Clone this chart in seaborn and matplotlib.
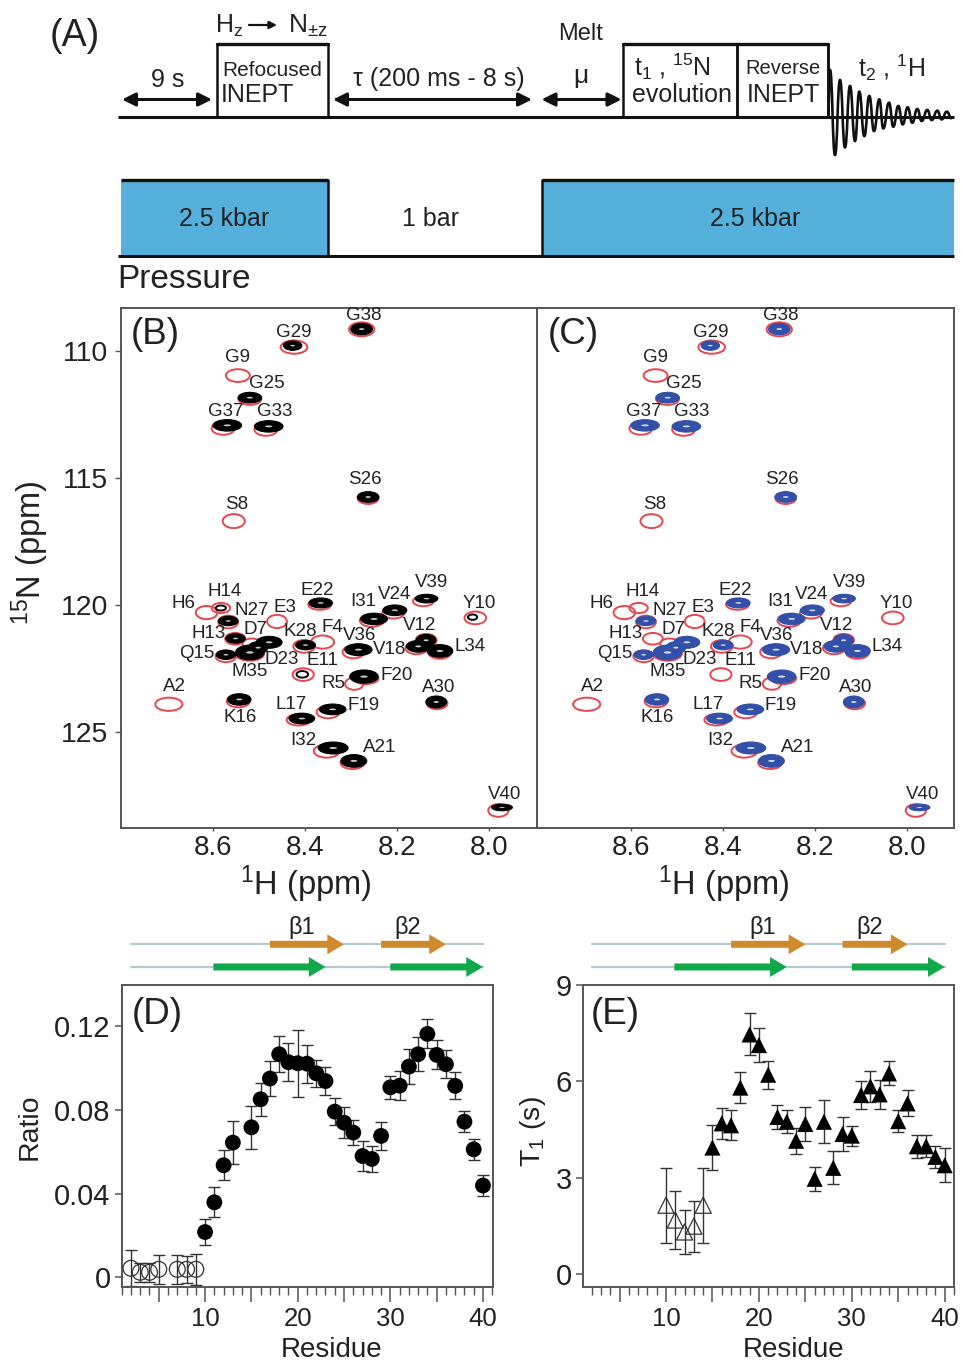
import numpy as np
import pandas as pd
import matplotlib
matplotlib.use("Agg")
import matplotlib.pyplot as plt
import seaborn as sns
from matplotlib.patches import Ellipse, Polygon, Rectangle, PathPatch
from matplotlib.path import Path
from matplotlib.ticker import FixedLocator, MultipleLocator, NullFormatter, FuncFormatter
from matplotlib.transforms import blended_transform_factory

# ---------- data: panel D ----------
ratio_open_res = [2, 3, 4, 5, 7, 8, 9]
ratio_open_val = [0.0043, 0.0024, 0.0024, 0.0038, 0.0038, 0.0038, 0.0038]
ratio_open_err = [0.0085, 0.0045, 0.0045, 0.0070, 0.0070, 0.0065, 0.0075]
ratio_res = [10, 11, 12, 13, 15, 16, 17, 18, 19, 20, 21, 22, 23, 24, 25, 26, 27, 28, 29, 30,
             31, 32, 33, 34, 35, 36, 37, 38, 39, 40]
ratio_val = [0.0216, 0.0358, 0.0535, 0.0643, 0.0716, 0.0850, 0.0949, 0.1065, 0.1027, 0.1022,
             0.1020, 0.0974, 0.0937, 0.0791, 0.0738, 0.0691, 0.0579, 0.0565, 0.0675, 0.0907,
             0.0915, 0.1006, 0.1065, 0.1162, 0.1062, 0.1017, 0.0914, 0.0743, 0.0611, 0.0438]
ratio_err = [0.0061, 0.0072, 0.0072, 0.0104, 0.0103, 0.0080, 0.0084, 0.0087, 0.0091, 0.0161,
             0.0090, 0.0065, 0.0068, 0.0064, 0.0073, 0.0060, 0.0072, 0.0062, 0.0068, 0.0054,
             0.0070, 0.0083, 0.0080, 0.0069, 0.0069, 0.0067, 0.0065, 0.0050, 0.0050, 0.0050]

# ---------- data: panel E ----------
t1_open_res = [10, 11, 12, 13, 14]
t1_open_val = [2.15, 1.69, 1.32, 1.50, 2.15]
t1_open_err = [1.16, 0.89, 0.69, 0.79, 1.16]
t1_res = list(range(15, 41))
t1_val = [3.94, 4.69, 4.63, 5.80, 7.45, 7.12, 6.20, 4.89, 4.74, 4.15, 4.67, 2.97, 4.74,
          3.31, 4.36, 4.31, 5.57, 5.84, 5.59, 6.24, 4.76, 5.31, 3.98, 3.98, 3.65, 3.39]
t1_err = [0.70, 0.48, 0.47, 0.49, 0.65, 0.54, 0.44, 0.36, 0.36, 0.41, 0.53, 0.38, 0.67,
          0.51, 0.52, 0.31, 0.44, 0.49, 0.46, 0.37, 0.34, 0.40, 0.35, 0.34, 0.35, 0.53]

# ---------- data: secondary structure (residue ranges) ----------
strand_line = [2, 40]
strands_orange = [(17, 25), (29, 36)]
strands_green = [(10.9, 23), (30, 40)]

# ---------- data: NMR peaks ----------
peak_names = ["G38", "G29", "G25", "G37", "G33", "S26", "H14", "N27", "H13", "D7", "Q15", "M35",
              "D23", "K28", "V36", "E11", "F20", "K16", "L17", "F19", "I32", "A21", "A30", "V39",
              "V24", "I31", "Y10", "V12", "V18", "L34", "V40", "E22"]
peak_h = [8.277, 8.427, 8.520, 8.569, 8.479, 8.263, 8.583, 8.567, 8.551, 8.478, 8.572, 8.520,
          8.502, 8.399, 8.284, 8.406, 8.272, 8.543, 8.407, 8.340, 8.339, 8.294, 8.115, 8.136,
          8.205, 8.250, 8.036, 8.137, 8.154, 8.107, 7.972, 8.366]
peak_n = [109.15, 109.80, 111.85, 112.94, 112.98, 115.76, 120.13, 120.64, 121.33, 121.48, 121.97,
          121.88, 121.69, 121.59, 121.77, 122.74, 122.83, 123.73, 124.48, 124.12, 125.64, 126.15,
          123.83, 119.76, 120.22, 120.56, 120.49, 121.40, 121.64, 121.82, 127.98, 119.93]
peak_wh = [.047, .040, .051, .062, .062, .047, .022, .043, .042, .056, .042, .062,
           .043, .043, .059, .025, .062, .051, .056, .058, .065, .056, .045, .049,
           .052, .058, .020, .043, .051, .056, .045, .051]
peak_wn = [.45, .37, .42, .45, .45, .42, .20, .37, .37, .47, .37, .58,
           .47, .37, .47, .26, .52, .45, .42, .42, .47, .50, .47, .34,
           .42, .45, .21, .46, .46, .50, .26, .39]
absent_in_c = ["H14", "E11", "H13", "Y10"]

ref_names = ["G38", "G29", "G9", "G25", "G37", "G33", "S26", "S8", "H6", "H14", "N27", "E3", "H13",
             "D7", "Q15", "M35", "K28", "F4", "V36", "E11", "R5", "F20", "A2", "K16", "L17", "F19",
             "I32", "A21", "A30", "V39", "V24", "I31", "Y10", "V12", "V18", "L34", "V40", "E22"]
ref_h = [8.277, 8.424, 8.546, 8.520, 8.578, 8.485, 8.263, 8.555, 8.614, 8.583, 8.567, 8.461, 8.552,
         8.516, 8.572, 8.520, 8.402, 8.362, 8.295, 8.404, 8.293, 8.268, 8.696, 8.545, 8.414, 8.350,
         8.353, 8.297, 8.113, 8.143, 8.208, 8.255, 8.030, 8.137, 8.158, 8.107, 7.980, 8.368]
ref_n = [109.16, 109.86, 110.98, 111.90, 113.06, 113.10, 115.81, 116.71, 120.31, 120.13, 120.68,
         120.66, 121.34, 121.54, 122.03, 121.93, 121.64, 121.47, 121.86, 122.75, 123.11, 122.90,
         123.92, 123.80, 124.53, 124.23, 125.76, 126.22, 123.88, 119.86, 120.32, 120.62, 120.52,
         121.40, 121.70, 121.88, 128.10, 119.99]
ref_wh = [.055, .058, .052, .050, .050, .050, .045, .048, .047, .040, .043, .043, .043,
          .040, .045, .062, .047, .050, .047, .046, .040, .055, .059, .050, .052, .050,
          .056, .052, .045, .045, .048, .052, .047, .045, .048, .050, .044, .050]
ref_wn = [.55, .52, .50, .47, .50, .50, .45, .55, .52, .40, .50, .52, .46,
          .42, .46, .55, .50, .52, .50, .50, .48, .45, .52, .48, .45, .48,
          .52, .50, .47, .40, .45, .50, .50, .50, .50, .50, .50, .42]

# label placement relative to each peak (points after scaling)
label_offsets = {
    "G38": (5, -40), "G29": (2, -40), "G9": (0, -55), "G25": (50, -43), "G37": (-5, -43),
    "G33": (17, -44), "S26": (-10, -51), "S8": (10, -50), "H6": (-68, -27), "H14": (12, -50),
    "N27": (70, -32), "E3": (24, -43), "H13": (-82, -16), "D7": (-40, -38), "Q15": (-87, -3),
    "M35": (0, 56), "D23": (72, 36), "K28": (-15, -42), "F4": (29, -45), "V36": (3, -43),
    "E11": (60, -40), "R5": (-63, 0), "F20": (98, -4), "A2": (16, -52), "K16": (2, 53),
    "L17": (-33, -42), "F19": (92, -12), "I32": (-90, -23), "A21": (78, -40), "A30": (6, -43),
    "V39": (15, -48), "V24": (-2, -47), "I31": (-34, -51), "Y10": (20, -40), "V12": (-20, -45),
    "V18": (-87, 10), "L34": (90, -12), "V40": (9, -39), "E22": (-10, -38),
}

# ---------- data: FID extrema (panel A) ----------
fid_top_x = [830, 840, 850, 859.3, 869.3, 879.3, 889, 898.3, 907.7, 917.3, 927.3, 937.3, 946.7]
fid_top_amp = [46.7, 36.7, 30.7, 25, 20.7, 17.3, 14, 10.7, 9.3, 7.7, 6.7, 6, 5]
fid_bot_x = [835, 845, 855, 864.3, 874, 883.3, 893.3, 902.7, 912.3, 921.7, 931.7, 941.7, 951.7]
fid_bot_amp = [38.3, 30.7, 24.3, 19.3, 14.3, 11.7, 10, 7.7, 6, 4.3, 3.3, 2.7, 1.7]

# ---------- style ----------
sns.set_theme(style="ticks")
plt.rcParams["font.family"] = ["Liberation Sans", "DejaVu Sans"]
plt.rcParams["mathtext.fontset"] = "custom"
plt.rcParams["mathtext.rm"] = "Liberation Sans"
plt.rcParams["mathtext.it"] = "Liberation Sans:italic"
plt.rcParams["mathtext.bf"] = "Liberation Sans:bold"

W, H = 961, 1361
INK = "#222222"
SPINE = "#555555"
RED = "#E8464E"
BLUE = "#3350A8"
fig = plt.figure(figsize=(W / 100, H / 100), dpi=100, facecolor="white")


def axes_px(l, t, r, b):
    return fig.add_axes([l / W, 1 - b / H, (r - l) / W, (b - t) / H])


# ---------- panel A ----------
axA = fig.add_axes([0, 0, 1, 1], zorder=0)
axA.set_xlim(0, W)
axA.set_ylim(H, 0)
axA.axis("off")

for x0, x1 in [(121, 328), (541.5, 954)]:
    axA.add_patch(Rectangle((x0, 180), x1 - x0, 75.5, fc="#55B0DC", ec="none"))
    axA.plot([x0, x1], [180, 180], color="#111111", lw=2.4, solid_capstyle="butt")
axA.plot([118, 954], [255.5, 255.5], color="#111111", lw=2.2, solid_capstyle="butt")
for x in (328, 541.5):
    axA.plot([x, x], [180, 255.5], color="#111111", lw=1.8)

axA.plot([118, 954], [116.7, 116.7], color="#111111", lw=2.2, solid_capstyle="butt", zorder=3)
for x0, x1 in [(217, 328), (623, 737), (737, 828)]:
    axA.plot([x0, x0, x1, x1], [116.7, 43.5, 43.5, 116.7], color="#111111", lw=1.8,
             solid_joinstyle="miter")
    axA.plot([x0, x1], [43.5, 43.5], color="#111111", lw=2.4)

for x0, x1 in [(122, 212), (333, 532), (541.5, 621.5)]:
    axA.annotate("", xy=(x1, 99.5), xytext=(x0, 99.5),
                 arrowprops=dict(arrowstyle="<|-|>", color="#111111", lw=2.2, mutation_scale=20,
                                 shrinkA=0, shrinkB=0))
axA.annotate("", xy=(277, 25), xytext=(249, 25),
             arrowprops=dict(arrowstyle="-|>", color="#111111", lw=1.6, mutation_scale=11,
                             shrinkA=0, shrinkB=0))

# FID drawn through the extrema
baseline = 116.7
ext_x = [828.0]
ext_y = [baseline]
for a, b, c, d in zip(fid_top_x, fid_top_amp, fid_bot_x, fid_bot_amp):
    ext_x += [a, c]
    ext_y += [baseline - b, baseline + d]
verts = [(ext_x[0], ext_y[0])]
codes = [Path.MOVETO]
for i in range(1, len(ext_x)):
    mx = (ext_x[i - 1] + ext_x[i]) / 2
    verts += [(mx, ext_y[i - 1]), (mx, ext_y[i]), (ext_x[i], ext_y[i])]
    codes += [Path.CURVE4] * 3
axA.add_patch(PathPatch(Path(verts, codes), fc="none", ec="#111111", lw=1.9, zorder=4))
axA.plot([828, 828], [44, 116.7], color="#111111", lw=1.8, zorder=4)


def txt(x, y, s, size=18, ha="center", **kw):
    axA.text(x, y + 2, s, fontsize=size, ha=ha, va="center", color=INK, **kw)


txt(50, 34, "(A)", 27, ha="left")
txt(168, 78, "9 s")
txt(215, 24, r"H$_{\mathrm{z}}$", 18, ha="left")
txt(288, 24, r"N$_{\mathrm{\pm z}}$", 19, ha="left")
txt(272, 68, "Refocused", 15)
txt(221, 93, "INEPT", 18, ha="left")
txt(439, 77, "τ (200 ms - 8 s)", 18)
txt(581, 32, "Melt", 17)
txt(581, 74, "μ", 19)
txt(634, 65, r"t$_{1}$ , $^{15}$N", 18, ha="left")
txt(682, 93, "evolution", 18)
txt(783, 66, "Reverse", 14.5)
txt(783, 93, "INEPT", 18)
txt(892, 66, r"t$_{2}$ , $^{1}$H", 18)
txt(224, 217, "2.5 kbar")
txt(430, 217, "1 bar")
txt(755, 217, "2.5 kbar")
txt(117, 277, "Pressure", 24, ha="left")

# ---------- panels B and C ----------
axB = axes_px(121, 308, 537, 828)
axC = axes_px(537, 308, 954, 828)
black_lookup = dict(zip(peak_names, zip(peak_h, peak_n)))
red_lookup = dict(zip(ref_names, zip(ref_h, ref_n)))


def draw_spectrum(ax, color, skip):
    for h_, n_, wh, wn in zip(ref_h, ref_n, ref_wh, ref_wn):
        ax.add_patch(Ellipse((h_, n_), wh, wn, fc="none", ec=RED, lw=1.4, zorder=2))
    for name, h_, n_, wh, wn in zip(peak_names, peak_h, peak_n, peak_wh, peak_wn):
        if name in skip:
            continue
        if wh < 0.03:
            ax.add_patch(Ellipse((h_, n_), wh, wn, fc="white", ec=color, lw=1.4, zorder=3))
            continue
        ax.add_patch(Ellipse((h_, n_), wh, wn, fc=color, ec=color, lw=0.8, zorder=3))
        ax.add_patch(Ellipse((h_, n_), wh * 0.26, wn * 0.16, fc="white", ec="none", alpha=0.8, zorder=4))
    for name, (dx, dy) in label_offsets.items():
        anchor = black_lookup[name] if name in black_lookup else red_lookup[name]
        ax.annotate(name, xy=anchor, xytext=(dx / 3 * 0.72, -dy / 3 * 0.72),
                    textcoords="offset points", ha="center", va="center", fontsize=13.5,
                    color=INK, zorder=5, annotation_clip=False)


draw_spectrum(axB, "#000000", [])
draw_spectrum(axC, BLUE, absent_in_c)

for ax, xlim in [(axB, (8.80, 7.896)), (axC, (8.804, 7.897))]:
    ax.set_xlim(*xlim)
    ax.set_ylim(128.79, 108.32)
    ax.set_xticks([8.6, 8.4, 8.2, 8.0])
    ax.set_xticklabels(["8.6", "8.4", "8.2", "8.0"])
    ax.tick_params(axis="x", labelsize=20, length=2, width=1, color=SPINE, pad=3, labelcolor=INK)
    ax.set_xlabel(r"$^{1}$H (ppm)", fontsize=23.5, color=INK)
    for s in ax.spines.values():
        s.set_color(SPINE)
        s.set_linewidth(1.4)
axB.xaxis.set_label_coords(0.445, -0.068)
axC.xaxis.set_label_coords(0.448, -0.068)
axB.set_yticks([110, 115, 120, 125])
axB.tick_params(axis="y", labelsize=20.5, length=4, width=1, color=SPINE, pad=5, labelcolor=INK)
axB.set_ylabel(r"$^{15}$N (ppm)", fontsize=23.5, color=INK)
axB.yaxis.set_label_coords(-0.168, 0.529)
axC.set_yticks([])
fig.text(573 / W, 1 - 335 / H, "(C)", fontsize=26.5, ha="center", va="center", color=INK, zorder=6)
fig.text(155 / W, 1 - 335 / H, "(B)", fontsize=26.5, ha="center", va="center", color=INK, zorder=6)

# ---------- panels D and E ----------
axD = axes_px(121.7, 984.5, 492.7, 1286.7)
axE = axes_px(583.3, 984.5, 954, 1286.7)


def draw_series(ax, res, val, err, marker, size, filled):
    df = pd.DataFrame({"Residue": res, "value": val})
    ax.errorbar(res, val, yerr=err, fmt="none", ecolor="#333333", elinewidth=1.0, capsize=4,
                capthick=1.0, zorder=2)
    if filled:
        sns.scatterplot(data=df, x="Residue", y="value", ax=ax, marker=marker, s=size, color="black",
                        edgecolor="none", linewidth=0, zorder=3, legend=False)
    else:
        ax.scatter(df["Residue"], df["value"], marker=marker, s=size, facecolors="none",
                   edgecolors="#333333", linewidths=0.9, zorder=3)


draw_series(axD, ratio_open_res, ratio_open_val, ratio_open_err, "o", 130, False)
draw_series(axD, ratio_res, ratio_val, ratio_err, "o", 130, True)
draw_series(axE, t1_open_res, t1_open_val, t1_open_err, "^", 135, False)
draw_series(axE, t1_res, t1_val, t1_err, "^", 135, True)

axD.set_xlim(1.0, 41.05)
axD.set_ylim(-0.0045, 0.1398)
axD.set_yticks([0, 0.04, 0.08, 0.12])
axD.set_yticklabels(["0", "0.04", "0.08", "0.12"])
axD.set_ylabel("Ratio", fontsize=20.5, color=INK)
axD.yaxis.set_label_coords(-0.212, 0.53)
axE.set_xlim(1.1, 41.0)
axE.set_ylim(-0.38, 9)
axE.set_yticks([0, 3, 6, 9])
axE.set_ylabel(r"T$_{1}$ (s)", fontsize=20.5, color=INK)
axE.yaxis.set_label_coords(-0.096, 0.515)

for ax, cx in [(axD, 0.566), (axE, 0.566)]:
    ax.xaxis.set_major_locator(FixedLocator([5, 10, 15, 20, 25, 30, 35, 40]))
    ax.xaxis.set_major_formatter(FuncFormatter(lambda v, _: f"{int(v)}" if int(v) % 10 == 0 else ""))
    ax.xaxis.set_minor_locator(MultipleLocator(1))
    ax.xaxis.set_minor_formatter(NullFormatter())
    ax.tick_params(axis="x", which="major", length=10.5, width=1.1, color=SPINE, labelsize=18.5,
                   pad=4, labelcolor=INK)
    ax.tick_params(axis="x", which="minor", length=5.5, width=1.0, color=SPINE)
    ax.tick_params(axis="y", length=5, width=1.1, color=SPINE, labelsize=21, pad=3, labelcolor=INK)
    ax.set_xlabel("Residue", fontsize=20, color=INK)
    ax.xaxis.set_label_coords(cx, -0.167)
    for s in ax.spines.values():
        s.set_visible(True)
        s.set_color(SPINE)
        s.set_linewidth(1.4)
    # secondary structure above the axes, in residue coordinates
    tr = blended_transform_factory(ax.transData, ax.transAxes)
    for yy, strands, col in [(1.133, strands_orange, "#CF8A2E"), (1.058, strands_green, "#0FA84A")]:
        ax.plot(strand_line, [yy, yy], transform=tr, color="#B5CCCC", lw=1.6, clip_on=False, zorder=1)
        for a, b in strands:
            hs = b - 1.8
            poly = [(a, yy - .0116), (hs, yy - .0116), (hs, yy - .033), (b, yy), (hs, yy + .033),
                    (hs, yy + .0116), (a, yy + .0116)]
            ax.add_patch(Polygon(poly, closed=True, transform=tr, fc=col, ec="none", clip_on=False, zorder=2))
    for label, res_pos in [("β1", 20.4), ("β2", 31.9)]:
        ax.text(res_pos, 1.19, label, transform=tr, fontsize=17, ha="center", va="center", color=INK)

fig.text(157 / W, 1 - 1014 / H, "(D)", fontsize=26.5, ha="center", va="center", color=INK, zorder=6)
fig.text(615 / W, 1 - 1014 / H, "(E)", fontsize=26.5, ha="center", va="center", color=INK, zorder=6)

fig.savefig("out.png", dpi=100, facecolor="white")
